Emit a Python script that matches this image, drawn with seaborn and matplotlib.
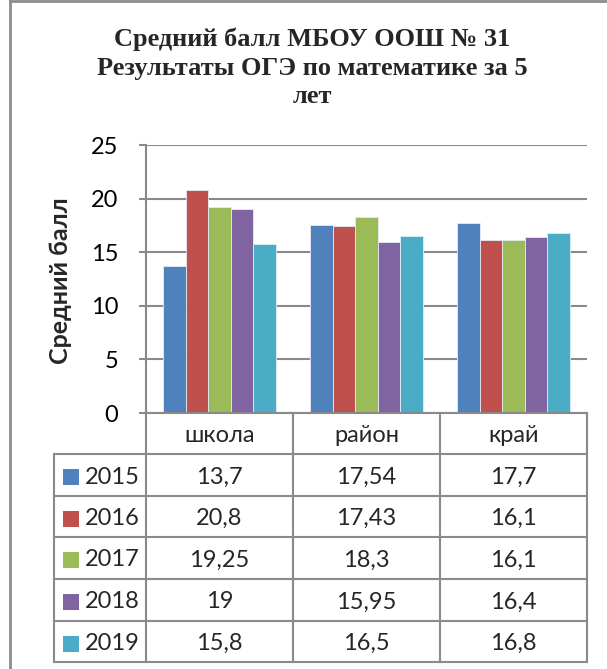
import matplotlib

matplotlib.use("Agg")

import matplotlib.pyplot as plt
import pandas as pd
import seaborn as sns
from matplotlib.lines import Line2D

categories = ["школа", "район", "край"]
years = ["2015", "2016", "2017", "2018", "2019"]
scores = {
    "2015": [13.7, 17.54, 17.7],
    "2016": [20.8, 17.43, 16.1],
    "2017": [19.25, 18.3, 16.1],
    "2018": [19.0, 15.95, 16.4],
    "2019": [15.8, 16.5, 16.8],
}
colors = ["#4F81BD", "#C0504D", "#9BBB59", "#8064A2", "#4BACC6"]

title = "Средний балл МБОУ ООШ № 31\nРезультаты ОГЭ по математике за 5\nлет"
ylabel = "Средний балл"

sns.set_theme(style="white")
plt.rcParams["font.family"] = ["Lato", "DejaVu Sans"]

rows = []
for year in years:
    for cat, val in zip(categories, scores[year]):
        rows.append({"category": cat, "year": year, "score": val})
df = pd.DataFrame(rows)

W, H = 607, 669
fig = plt.figure(figsize=(W / 100, H / 100), dpi=100)
fig.patch.set_facecolor("white")

# plot area in pixels
left_px, right_px, top_px, bottom_px = 146, 587, 145, 413
ax = fig.add_axes([left_px / W, 1 - bottom_px / H,
                   (right_px - left_px) / W, (bottom_px - top_px) / H])

sns.barplot(data=df, x="category", y="score", hue="year", order=categories,
            hue_order=years, palette=colors, width=0.77, saturation=1,
            edgecolor="#e4ecf5", linewidth=0.6, legend=False, ax=ax)

grid_c = "#8a8a8a"
fs = 17
ax.set_ylim(0, 25)
ax.set_xlim(-0.5, 2.5)
ax.set_yticks(range(0, 26, 5))
ax.yaxis.grid(True, color=grid_c, linewidth=1.5)
ax.set_axisbelow(True)
ax.set_xticks([])
ax.set_xlabel("")
ax.set_ylabel("")
for side in ["top", "right"]:
    ax.spines[side].set_visible(False)
for side in ["left", "bottom"]:
    ax.spines[side].set_color(grid_c)
    ax.spines[side].set_linewidth(1.5)
ax.tick_params(axis="y", length=5, width=1.5, color=grid_c, pad=15,
               labelsize=fs, labelcolor="black", left=True)

fig.text(60 / W, 1 - 281 / H, ylabel, rotation=90, ha="center", va="center",
         fontsize=18, fontweight="bold")

fig.text(0.514, 1 - 68 / H, title, ha="center", va="center",
         family="Liberation Serif", fontweight="bold", fontsize=19,
         linespacing=1.3)

# data table under the plot
tr = ax.get_xaxis_transform()
plot_h = bottom_px - top_px


def ay(ypx):
    return (bottom_px - ypx) / plot_h


row_edges = [413, 454, 496, 537, 579, 621, 662]
legend_left = -0.5 - (left_px - 54) / ((right_px - left_px) / 3)
lkw = dict(color=grid_c, linewidth=1.5, transform=tr, clip_on=False,
           solid_capstyle="projecting")

for i in range(len(categories) + 1):
    x = -0.5 + i
    ax.add_line(Line2D([x, x], [ay(row_edges[0]), ay(row_edges[-1])], **lkw))
ax.add_line(Line2D([legend_left, legend_left],
                   [ay(row_edges[1]), ay(row_edges[-1])], **lkw))
for y in row_edges[1:]:
    ax.add_line(Line2D([legend_left, 2.5], [ay(y), ay(y)], **lkw))

for j, cat in enumerate(categories):
    ax.text(j, ay((row_edges[0] + row_edges[1]) / 2 + 2), cat, transform=tr,
            ha="center", va="center", fontsize=fs, clip_on=False)

sq_x = legend_left + (71 - 54) / ((right_px - left_px) / 3)
yr_x = legend_left + (85 - 54) / ((right_px - left_px) / 3)
for r, (year, color) in enumerate(zip(years, colors)):
    yc = ay((row_edges[r + 1] + row_edges[r + 2]) / 2 + 2)
    ax.scatter([sq_x], [yc], marker="s", s=125, color=color, transform=tr,
               clip_on=False, linewidths=0)
    ax.text(yr_x, yc, year, transform=tr, ha="left", va="center",
            fontsize=fs, clip_on=False)
    for j, val in enumerate(scores[year]):
        label = f"{val:g}".replace(".", ",")
        ax.text(j, yc, label, transform=tr, ha="center", va="center",
                fontsize=fs, clip_on=False)

# outer chart frame (left and top edges visible)
frame_c = "#8c8c8c"
fig.add_artist(Line2D([9.5 / W, 9.5 / W], [0, 1], transform=fig.transFigure,
                      color=frame_c, linewidth=2))
fig.add_artist(Line2D([9.5 / W, 1], [1 - 1 / H, 1 - 1 / H],
                      transform=fig.transFigure, color=frame_c, linewidth=2))

fig.savefig("out.png", dpi=100, facecolor="white")
plt.close(fig)
